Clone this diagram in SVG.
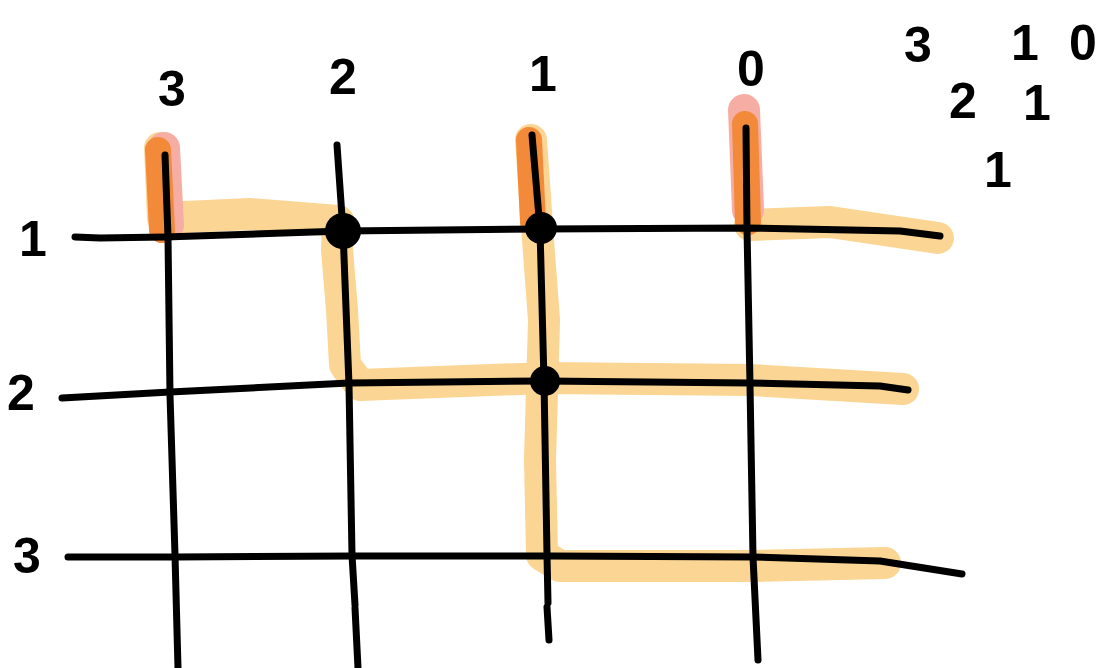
<svg xmlns="http://www.w3.org/2000/svg" width="1103" height="668" viewBox="0 0 1103 668">
<style>
.ink{fill:none;stroke:#000;stroke-width:7;stroke-linecap:round;stroke-linejoin:round}
.hl{fill:none;stroke:#FBD593;stroke-width:32;stroke-linecap:round;stroke-linejoin:round}
.hot{fill:none;stroke:#F38A3A;stroke-width:26;stroke-linecap:round}
.pink{fill:none;stroke:#F6ADA3;stroke-width:32;stroke-linecap:round}
.num{font-family:"Liberation Sans",Arial,sans-serif;font-weight:bold;font-size:50px;fill:#000;text-anchor:middle}
.dot{fill:#000}
</style>
<rect width="1103" height="668" fill="#fff"/>
<g id="highlights">
<path class="hl" d="M160 148 L163 218 L250 214 L338 221 L337 250 L342 310 L345 365 L360 385 L545 378 L750 380 L903 389"/>
<path class="hl" d="M531 140 L538 240 L544 320 L540 460 L542 555 L560 566 L750 566 L885 563"/>
<path class="hl" d="M750 225 L830 222 L938 238"/>
<path class="pink" d="M744 110 L748 210"/>
<path class="pink" d="M164 148 L168 225"/>
<path class="hot" d="M158 150 L162 230"/>
<path class="hot" d="M529 140 L533 222"/>
<path class="hot" d="M745 124 L748 222"/>
</g>
<g id="connectors">
<path class="ink" d="M165 155 L168 237 L170 395 L175 555 L178 668"/>
<path class="ink" d="M337 145 L343 231 L349 385 L352 555 L355 605 M355 608 L358 668"/>
<path class="ink" d="M532 135 L540 229 L544 381 L547 555 L548 603 M547 607 L549 640"/>
<path class="ink" d="M746 128 L747 228 L750 385 L753 557 L758 660"/>
<path class="ink" d="M75 237 L100 238 L165 237 L343 231 L540 229 L747 228 L900 231 L940 236"/>
<path class="ink" d="M62 398 L170 392 L349 383 L544 381 L750 383 L880 386 L908 390"/>
<path class="ink" d="M68 557 L175 557 L352 556 L550 556 L753 557 L880 561 L962 574"/>
</g>
<g id="dots">
<circle class="dot" cx="343" cy="231" r="18"/>
<circle class="dot" cx="541" cy="228" r="16"/>
<circle class="dot" cx="545" cy="381" r="15"/>
</g>
<g id="column-labels">
<text class="num" x="172" y="106">3</text>
<text class="num" x="343" y="94">2</text>
<text class="num" x="543" y="91">1</text>
<text class="num" x="751" y="86">0</text>
</g>
<g id="row-labels">
<text class="num" x="33" y="256">1</text>
<text class="num" x="21" y="410">2</text>
<text class="num" x="27" y="573">3</text>
</g>
<g id="triangle">
<text class="num" x="918" y="62">3</text>
<text class="num" x="1025" y="60">1</text>
<text class="num" x="1083" y="60">0</text>
<text class="num" x="963" y="118">2</text>
<text class="num" x="1037" y="120">1</text>
<text class="num" x="998" y="187">1</text>
</g>
</svg>
